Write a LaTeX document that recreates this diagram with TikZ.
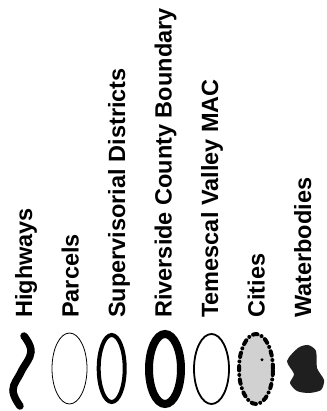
\documentclass[tikz,border=0pt]{standalone}
\usepackage{fontspec}
\setmainfont{Liberation Sans}
\tikzset{
  lbl/.style={rotate=90, anchor=base west, inner sep=0pt, font=\fontsize{23.5}{28}\selectfont\bfseries},
  ring/.style={draw=black},
}
\begin{document}
\begin{tikzpicture}[x=1pt,y=1pt]
\useasboundingbox (0,0) rectangle (326,411);

\node[lbl] (hwy) at (32,93) {Highways};
\node[lbl] (parcels) at (78.5,93) {Parcels};
\node[lbl] (supdist) at (125,93) {Supervisorial Districts};
\node[lbl] (county) at (171.5,93) {Riverside County Boundary};
\node[lbl] (mac) at (218,93) {Temescal Valley MAC};
\node[lbl] (cities) at (264.5,93) {Cities};
\node[lbl] (water) at (311,93) {Waterbodies};

% legend symbols
\draw[line width=7.5pt, line cap=round] plot[smooth, tension=.7] coordinates {(24,75) (31,59) (21,39) (13,21) (20,5)};
\draw[ring, line width=0.8pt] (69.5,42.5) ellipse (17.5 and 35.5);
\draw[ring, line width=4pt] (111.7,42.5) ellipse (13 and 33.5);
\draw[ring, line width=8pt] (165,42) ellipse (16 and 35);
\draw[ring, line width=1.8pt] (211.5,42) ellipse (17.5 and 35);
\draw[ring, fill=black!18, line width=4pt, line cap=round, dash pattern=on 4.5pt off 4.5pt on 0pt off 4.5pt] (256,42) ellipse (17 and 35);
\fill (262,51.3) circle (1.6);
\fill[black!88] plot[smooth cycle, tension=.45] coordinates {(287,50) (298,63) (308,66) (316,60) (317,43) (324,31) (321,21) (309,18) (297,20) (290,28) (294,37)};
\end{tikzpicture}
\end{document}
